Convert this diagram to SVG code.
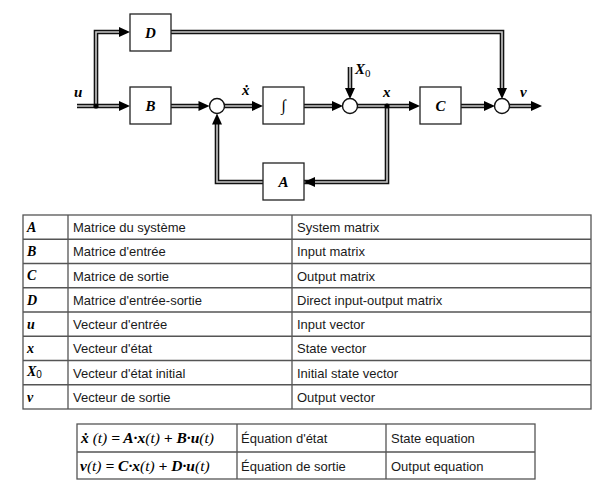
<svg xmlns="http://www.w3.org/2000/svg" xmlns:xlink="http://www.w3.org/1999/xlink" width="605" height="496" viewBox="0 0 605 496">
<style>
.box{fill:#fff;stroke:#222;stroke-width:1.3}
.sum{fill:#fff;stroke:#111;stroke-width:1.4}
.po{fill:none;stroke:#111;stroke-width:4.6;stroke-linejoin:miter}
.pi{fill:none;stroke:#c8c8c8;stroke-width:1.6;stroke-linejoin:miter}
.ah{fill:#000}
.lbl{font-family:"Liberation Serif",serif;font-weight:bold;font-style:italic;font-size:15px;fill:#000}
.sym{font-family:"Liberation Serif",serif;font-weight:bold;font-style:italic;font-size:14px;fill:#000}
.eq{font-family:"Liberation Serif",serif;font-weight:bold;font-style:italic;font-size:15.5px;fill:#000}
.nw{font-weight:normal}
.txt{font-family:"Liberation Sans",Arial,sans-serif;font-size:13px;fill:#1a1a1a}
.grid{fill:none;stroke:#555;stroke-width:1.3}
</style>
<defs>
<path id="ah" d="M0,0 L-11,-5 L-11,5 Z"/>
</defs>
<g id="connectors">
<path class="po" d="M77,106 H120 M96,106 V32 H120 M171,106 H199 M224,106 H253 M304,106 H333 M350,67 V89 M357,106 H410 M461,106 H485 M509,106 H532 M171,32 H502 V89 M387,106 V182 H294 M263,182 H217 V124"/>
<path class="pi" d="M77,106 H120 M96,106 V32 H120 M171,106 H199 M224,106 H253 M304,106 H333 M350,67 V89 M357,106 H410 M461,106 H485 M509,106 H532 M171,32 H502 V89 M387,106 V182 H294 M263,182 H217 V124"/>
<g class="ah">
<use xlink:href="#ah" transform="translate(130,106)"/>
<use xlink:href="#ah" transform="translate(130,32)"/>
<use xlink:href="#ah" transform="translate(209.5,106)"/>
<use xlink:href="#ah" transform="translate(263,106)"/>
<use xlink:href="#ah" transform="translate(343,106)"/>
<use xlink:href="#ah" transform="translate(350,99) rotate(90)"/>
<use xlink:href="#ah" transform="translate(420,106)"/>
<use xlink:href="#ah" transform="translate(495,106)"/>
<use xlink:href="#ah" transform="translate(542,106)"/>
<use xlink:href="#ah" transform="translate(502,99) rotate(90)"/>
<use xlink:href="#ah" transform="translate(304,182) rotate(180)"/>
<use xlink:href="#ah" transform="translate(217,113.5) rotate(-90)"/>
</g>
<circle cx="96" cy="106" r="2.6" fill="#000"/>
<circle cx="387" cy="106" r="2.6" fill="#000"/>
<text class="lbl" x="74" y="97">u</text>
<text class="lbl" x="242" y="95">ẋ</text>
<text class="lbl" x="355" y="74">X<tspan class="nw" font-style="normal" font-size="11" dy="3">0</tspan></text>
<text class="lbl" x="383" y="97">x</text>
<text class="lbl" x="520" y="97">v</text>
</g>
<g id="D"><rect class="box" x="130" y="14" width="41" height="37"/><text class="lbl" x="150.5" y="37.5" text-anchor="middle">D</text></g>
<g id="B"><rect class="box" x="130" y="87" width="41" height="37"/><text class="lbl" x="150.5" y="111" text-anchor="middle">B</text></g>
<g id="sum1"><circle class="sum" cx="217" cy="106" r="7.5"/></g>
<g id="integrator"><rect class="box" x="263" y="87" width="41" height="37"/><text x="283.5" y="111" text-anchor="middle" font-family="Liberation Serif,serif" font-size="16">∫</text></g>
<g id="sum2"><circle class="sum" cx="350" cy="106" r="7.5"/></g>
<g id="C"><rect class="box" x="420" y="87" width="41" height="37"/><text class="lbl" x="440.5" y="111" text-anchor="middle">C</text></g>
<g id="sum3"><circle class="sum" cx="502" cy="106" r="7.5"/></g>
<g id="A"><rect class="box" x="263" y="163" width="41" height="37"/><text class="lbl" x="283.5" y="187" text-anchor="middle">A</text></g>
<g id="table-symbols">
<rect class="grid" x="23" y="215" width="568" height="194"/>
<path class="grid" d="M68,215 V409 M292,215 V409 M23,239.25 H591 M23,263.5 H591 M23,287.75 H591 M23,312 H591 M23,336.25 H591 M23,360.5 H591 M23,384.75 H591"/>
<text class="sym" x="27" y="232">A</text>
<text class="sym" x="27" y="256">B</text>
<text class="sym" x="27" y="280">C</text>
<text class="sym" x="27" y="304.5">D</text>
<text class="sym" x="27" y="328.5">u</text>
<text class="sym" x="27" y="353">x</text>
<text class="sym" x="27" y="376">X<tspan class="nw" font-style="normal" font-family="Liberation Sans,sans-serif" font-size="10" dy="2">0</tspan></text>
<text class="sym" x="27" y="401.5">v</text>
<g class="txt">
<text x="73" y="232">Matrice du système</text>
<text x="73" y="256">Matrice d'entrée</text>
<text x="73" y="280.5">Matrice de sortie</text>
<text x="73" y="304.5">Matrice d'entrée-sortie</text>
<text x="73" y="329">Vecteur d'entrée</text>
<text x="73" y="353">Vecteur d'état</text>
<text x="73" y="377.5">Vecteur d'état initial</text>
<text x="73" y="401.5">Vecteur de sortie</text>
<text x="297" y="232">System matrix</text>
<text x="297" y="256">Input matrix</text>
<text x="297" y="280.5">Output matrix</text>
<text x="297" y="304.5">Direct input-output matrix</text>
<text x="297" y="329">Input vector</text>
<text x="297" y="353">State vector</text>
<text x="297" y="377.5">Initial state vector</text>
<text x="297" y="401.5">Output vector</text>
</g>
</g>
<g id="table-equations">
<rect class="grid" x="77" y="424" width="458" height="55"/>
<path class="grid" d="M237,424 V479 M386,424 V479 M77,452 H535"/>
<text class="eq" x="81" y="443">ẋ<tspan class="nw"> (t) </tspan>= A·x<tspan class="nw">(t)</tspan> + B·u<tspan class="nw">(t)</tspan></text>
<text class="eq" x="80" y="471">v<tspan class="nw">(t)</tspan> = C·x<tspan class="nw">(t)</tspan> + D·u<tspan class="nw">(t)</tspan></text>
<g class="txt">
<text x="241" y="443">Équation d'état</text>
<text x="241" y="471">Équation de sortie</text>
<text x="391" y="443">State equation</text>
<text x="391" y="471">Output equation</text>
</g>
</g>
</svg>
